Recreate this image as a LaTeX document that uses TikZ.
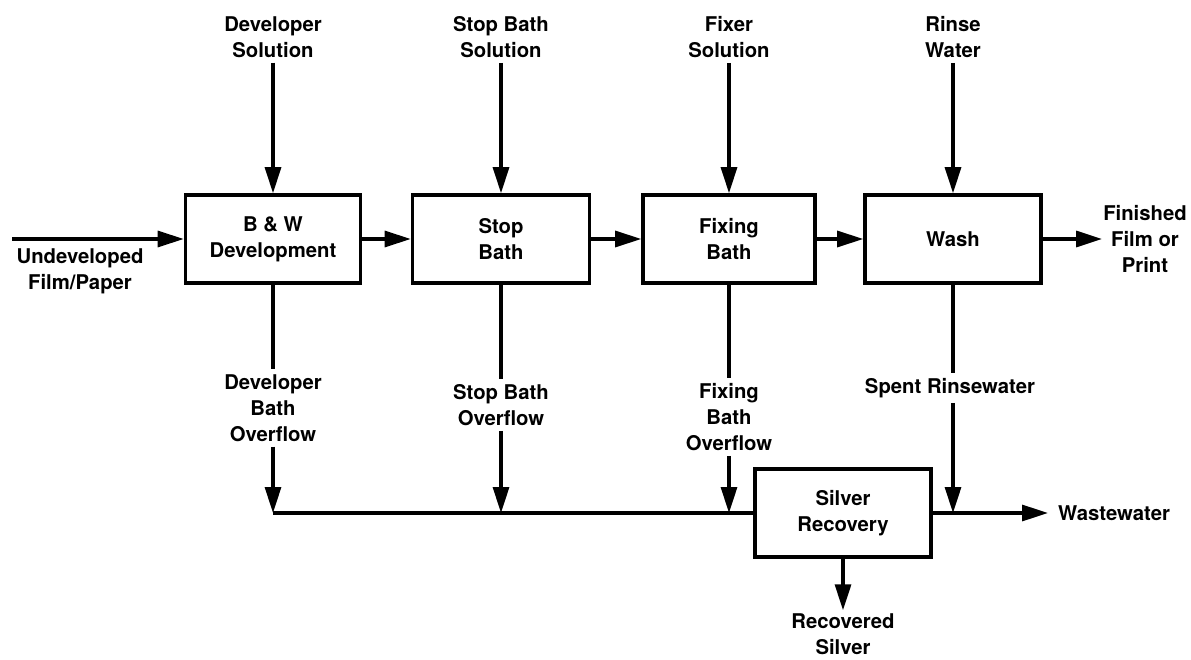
\documentclass[tikz,border=0pt]{standalone}
\usepackage{fontspec}
\setmainfont{TeX Gyre Heros}
\usetikzlibrary{arrows.meta,positioning}

\begin{document}
\begin{tikzpicture}[x=1pt,y=-1pt,
  every node/.style={font=\bfseries\fontsize{20.3}{26}\selectfont},
  tank/.style={draw,line width=3.6pt,align=center,minimum height=88pt,inner sep=0pt},
  lbl/.style={align=center,inner sep=5pt},
  pipe/.style={line width=3.2pt},
  flow/.style={line width=3.2pt,-{Triangle[length=26pt,width=16pt]}}]
\useasboundingbox (0,0) rectangle (1191,660);

%Process tanks
\node[tank,minimum width=175pt] (dev) at (273,239){B \& W\\Development};
\node[tank,minimum width=177pt] (stop) at (501,239){Stop\\Bath};
\node[tank,minimum width=172pt] (fix) at (729,239){Fixing\\Bath};
\node[tank,minimum width=176pt] (wash) at (953,239){Wash};
\node[tank,minimum width=176pt] (silver) at (843,513){Silver\\Recovery};

%Solutions coming in
\node[lbl] (devsol) at (273,37){Developer\\Solution};
\node[lbl] (stopsol) at (501,37){Stop Bath\\Solution};
\node[lbl] (fixsol) at (729,37){Fixer\\Solution};
\node[lbl] (rinse) at (953,37){Rinse\\Water};
\draw[flow] (devsol)--(dev); \draw[flow] (stopsol)--(stop); \draw[flow] (fixsol)--(fix); \draw[flow] (rinse)--(wash);

%Film through the line
\coordinate (in) at (12,239);
\node[lbl] (undev) at (80,271){Undeveloped\\Film/Paper};
\node[lbl,inner xsep=1pt] (fin) at (1145,239){Finished\\Film or\\Print};
\draw[flow] (in)--(dev.west); \draw[flow] (dev)--(stop); \draw[flow] (stop)--(fix); \draw[flow] (fix)--(wash); \draw[flow] (wash)--(fin);

%Overflows
\node[lbl] (devov) at (273,408){Developer\\Bath\\Overflow};
\node[lbl] (stopov) at (501,405){Stop Bath\\Overflow};
\node[lbl] (fixov) at (729,417){Fixing\\Bath\\Overflow};
\node[lbl] (spent) at (950,388){Spent Rinsewater};
\coordinate (j1) at (273,513); \coordinate (j2) at (501,513); \coordinate (j3) at (729,513); \coordinate (j4) at (953,513);
\draw[pipe] (dev)--(devov); \draw[flow] (devov)--(j1);
\draw[pipe] (stop)--(stopov); \draw[flow] (stopov)--(j2);
\draw[pipe] (fix)--(fixov); \draw[flow] (fixov)--(j3);
\draw[pipe] (wash.south)--(wash.south|-spent.north); \draw[flow] (wash.south|-spent.south)--(j4);

%Wastewater and silver
\draw[pipe] (j1)--(silver.west);
\node[lbl,anchor=west,inner xsep=10pt] (waste) at (1048,513){Wastewater};
\draw[flow] (silver.east)--(waste.west);
\node[lbl,inner sep=3pt] (recov) at (843,634){Recovered\\Silver};
\draw[flow] (silver)--(recov);

\end{tikzpicture}
\end{document}
